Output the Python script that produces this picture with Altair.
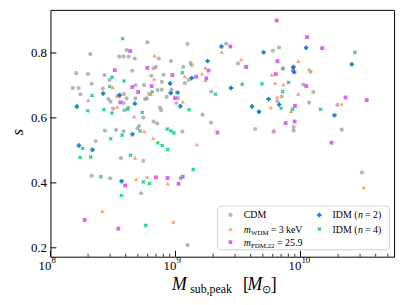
import altair as alt
import pandas as pd
import numpy as np

# ---------------- data (log10 of M_sub,peak in Msun, and s) ----------------
cdm_logM = [8.775, 8.319, 8.609, 8.551, 8.585, 8.625, 8.675, 8.867, 8.825, 8.843,
            8.206, 8.300, 8.654, 8.432, 8.806, 8.904, 8.472, 8.330, 8.749, 8.680,
            8.179, 8.225, 8.419, 8.857, 8.891, 8.240, 8.588, 8.551, 8.464, 8.482,
            8.501, 8.591, 8.622, 8.585, 8.680, 8.757, 8.770, 8.609, 8.743, 8.877,
            8.885, 8.825, 8.854, 8.709, 8.696, 8.435, 8.525, 8.585, 8.361, 8.564,
            8.743, 8.330, 8.477, 8.725, 9.096, 9.096, 9.405, 9.779, 9.829, 8.964,
            9.120, 9.130, 9.500, 9.861, 9.858, 9.062, 9.107, 9.075, 9.286, 8.930,
            9.020, 9.007, 9.217, 9.284, 9.055, 9.850, 9.816, 9.638, 9.784, 9.945,
            9.945, 10.069, 10.081, 10.023, 10.103, 10.296, 10.330, 10.492, 8.968,
            8.891, 8.788]
cdm_s = [0.833, 0.797, 0.809, 0.789, 0.789, 0.789, 0.783, 0.783, 0.753, 0.757,
         0.738, 0.735, 0.745, 0.732, 0.730, 0.733, 0.717, 0.705, 0.701, 0.701,
         0.692, 0.692, 0.690, 0.686, 0.687, 0.673, 0.674, 0.666, 0.658, 0.650,
         0.629, 0.624, 0.632, 0.646, 0.660, 0.658, 0.660, 0.660, 0.601, 0.632,
         0.624, 0.589, 0.583, 0.575, 0.568, 0.561, 0.563, 0.559, 0.529, 0.476,
         0.468, 0.422, 0.414, 0.368, 0.208, 0.828, 0.829, 0.807, 0.817, 0.775,
         0.769, 0.763, 0.768, 0.751, 0.753, 0.757, 0.717, 0.707, 0.681, 0.665,
         0.661, 0.646, 0.610, 0.586, 0.558, 0.666, 0.652, 0.566, 0.557, 0.572,
         0.561, 0.647, 0.742, 0.703, 0.680, 0.640, 0.564, 0.432, 0.687,
         0.711, 0.674]

wdm_logM = [8.833, 8.830, 8.498, 8.804, 8.302, 8.531, 8.533, 8.670, 8.749, 8.822,
            8.677, 8.685, 8.770, 8.414, 8.938, 8.983, 9.172, 9.059, 9.371, 9.526,
            9.239, 9.075, 9.213, 9.240, 9.770, 9.798, 9.862, 9.983, 10.069, 9.983,
            9.813, 9.763, 9.926, 9.790, 10.330, 10.506]
wdm_s = [0.792, 0.720, 0.694, 0.673, 0.655, 0.668, 0.634, 0.605, 0.559, 0.538,
         0.477, 0.411, 0.418, 0.313, 0.398, 0.280, 0.518, 0.650, 0.803, 0.780,
         0.755, 0.728, 0.736, 0.716, 0.733, 0.708, 0.703, 0.775, 0.750, 0.674,
         0.665, 0.632, 0.621, 0.563, 0.643, 0.386]

fdm_logM = [8.638, 8.514, 8.775, 8.809, 8.654, 8.701, 8.559, 8.598, 8.843, 8.937,
            9.025, 9.058, 8.274, 8.543, 8.996, 9.336, 9.810, 9.439, 9.816, 9.565,
            9.265, 8.975, 9.165, 9.247, 9.802, 10.053, 10.174, 9.941, 10.047, 9.956,
            10.361, 10.530, 9.881, 9.954, 10.248]
fdm_s = [0.806, 0.747, 0.754, 0.698, 0.695, 0.680, 0.648, 0.392, 0.417, 0.415,
         0.397, 0.419, 0.286, 0.259, 0.661, 0.555, 0.900, 0.820, 0.775, 0.757,
         0.746, 0.732, 0.727, 0.722, 0.735, 0.849, 0.815, 0.748, 0.698, 0.637,
         0.663, 0.655, 0.584, 0.589, 0.524]

idm2_logM = [8.422, 8.553, 8.211, 8.675, 8.656, 8.227, 8.336, 8.569, 8.962, 9.017,
             9.039, 8.957, 9.130, 9.257, 9.368, 9.705, 9.444, 10.045, 10.411, 9.944,
             9.950, 9.745, 9.830, 9.613, 9.668, 10.272]
idm2_s = [0.675, 0.671, 0.635, 0.644, 0.550, 0.515, 0.502, 0.405, 0.677, 0.678,
          0.636, 0.706, 0.723, 0.775, 0.820, 0.802, 0.692, 0.816, 0.765, 0.757,
          0.741, 0.658, 0.641, 0.635, 0.619, 0.608]

idm4_logM = [8.577, 8.493, 8.588, 8.474, 8.814, 8.332, 8.298, 8.427, 8.492, 8.617,
             8.735, 8.717, 8.573, 8.482, 8.859, 8.893, 8.934, 8.258, 8.322, 8.237,
             8.640, 8.403, 8.567, 8.743, 8.792, 8.762, 8.964, 8.988, 9.108, 8.938,
             9.142, 9.041, 9.320, 9.055, 9.534, 9.692, 9.905, 9.858, 9.845, 9.937,
             10.161, 10.435]
idm4_s = [0.844, 0.725, 0.714, 0.697, 0.680, 0.669, 0.622, 0.625, 0.615, 0.627,
          0.617, 0.560, 0.547, 0.536, 0.523, 0.515, 0.566, 0.506, 0.480, 0.478,
          0.485, 0.419, 0.361, 0.403, 0.398, 0.269, 0.560, 0.554, 0.625, 0.503,
          0.441, 0.414, 0.673, 0.739, 0.704, 0.705, 0.709, 0.681, 0.630, 0.627,
          0.627, 0.802]

y_ticks = [0.2, 0.4, 0.6, 0.8]
x_major = [1e8, 1e9, 1e10]
x_major_exp = ["8", "9", "10"]
x_minor = [2e8, 3e8, 4e8, 5e8, 6e8, 7e8, 8e8, 9e8,
           2e9, 3e9, 4e9, 5e9, 6e9, 7e9, 8e9, 9e9,
           2e10, 3e10, 4e10, 5e10]

# ---------------- style ----------------
FONT = "Liberation Serif"
W, H = 348, 250
C_CDM = "#999999"
C_WDM = "#ff8a4c"
C_FDM = "#d946f5"
C_IDM2 = "#0077c0"
C_IDM4 = "#10c88a"
PLUS = "M-0.45,-1H0.45V-0.45H1V0.45H0.45V1H-0.45V0.45H-1V-0.45H-0.45Z"
XSHAPE = ("M-1,-0.5L-0.5,-1L0,-0.5L0.5,-1L1,-0.5L0.5,0L1,0.5L0.5,1L0,0.5"
          "L-0.5,1L-1,0.5L-0.5,0Z")

xs = alt.Scale(type="log", domain=[1e8, 5.61e10], nice=False)
ys = alt.Scale(domain=[0.1726, 0.9329], nice=False, zero=False)
xax = alt.Axis(labels=False, ticks=False, domain=False, grid=False, title=None)
yax = alt.Axis(values=y_ticks, format=".1f", ticks=False, domain=False, grid=False,
               title=None, labelFont=FONT, labelFontSize=13, labelColor="black",
               labelPadding=4)


def pts(logm, s, shape, color, size, opacity):
    df = pd.DataFrame({"M": np.power(10.0, np.array(logm)), "s": s})
    return alt.Chart(df).mark_point(
        shape=shape, filled=True, color=color, size=size, opacity=opacity,
        strokeWidth=0
    ).encode(
        x=alt.X("M:Q", scale=xs, axis=xax),
        y=alt.Y("s:Q", scale=ys, axis=yax),
    )


one = pd.DataFrame({"a": [0]})


def txt(s, x, y, size, italic=False, align="left", angle=0, baseline="alphabetic"):
    kw = dict(text=s, font=FONT, fontSize=size, align=align, baseline=baseline,
              color="black")
    if italic:
        kw["fontStyle"] = "italic"
    if angle:
        kw["angle"] = angle
    return alt.Chart(one).mark_text(**kw).encode(x=alt.value(x), y=alt.value(y))


def legpt(x, y, shape, color, size, opacity):
    return alt.Chart(one).mark_point(
        shape=shape, filled=True, color=color, size=size, opacity=opacity,
        strokeWidth=0
    ).encode(x=alt.value(x), y=alt.value(y))


layers = [
    pts(cdm_logM, cdm_s, "circle", C_CDM, 18, 0.7),
    pts(wdm_logM, wdm_s, "triangle-up", C_WDM, 18, 0.85),
    pts(fdm_logM, fdm_s, "square", C_FDM, 15, 0.85),
    pts(idm2_logM, idm2_s, PLUS, C_IDM2, 20, 0.9),
    pts(idm4_logM, idm4_s, XSHAPE, C_IDM4, 17, 0.9),
]

# inward ticks
layers.append(alt.Chart(pd.DataFrame({"s": y_ticks})).mark_rule(color="black", strokeWidth=1).encode(
    y=alt.Y("s:Q", scale=ys, axis=yax), x=alt.value(0), x2=alt.value(6)))
layers.append(alt.Chart(pd.DataFrame({"M": x_major})).mark_rule(color="black", strokeWidth=1).encode(
    x=alt.X("M:Q", scale=xs, axis=xax), y=alt.value(H), y2=alt.value(H - 6)))
layers.append(alt.Chart(pd.DataFrame({"M": x_minor})).mark_rule(color="black", strokeWidth=0.8).encode(
    x=alt.X("M:Q", scale=xs, axis=xax), y=alt.value(H), y2=alt.value(H - 3)))

# x tick labels 10^n
xl = pd.DataFrame({"M": x_major, "e": x_major_exp})
layers.append(alt.Chart(xl).mark_text(text="10", font=FONT, fontSize=13, align="right",
                                      baseline="alphabetic", dx=1, color="black").encode(
    x=alt.X("M:Q", scale=xs, axis=xax), y=alt.value(H + 13)))
layers.append(alt.Chart(xl).mark_text(font=FONT, fontSize=9, align="left",
                                      baseline="alphabetic", dx=1, color="black").encode(
    x=alt.X("M:Q", scale=xs, axis=xax), y=alt.value(H + 6), text="e:N"))

# axis titles
layers += [
    txt("s", -33, 124, 17, italic=True, align="center", angle=270, baseline="middle"),
    txt("M", 123, 283.5, 18, italic=True),
    txt("sub,peak", 141.5, 287, 12),
    txt("[", 195, 283.5, 18),
    txt("M", 199.5, 283.5, 18, italic=True),
    txt("\u2299", 214, 287, 11),
    txt("]", 223, 283.5, 18),
]

# legend
layers.append(alt.Chart(one).mark_rect(fill="white", stroke="#cccccc", strokeWidth=1,
                                       cornerRadius=3, opacity=0.9).encode(
    x=alt.value(169.3), x2=alt.value(343.3), y=alt.value(198.7), y2=alt.value(243)))
layers += [
    legpt(182.3, 207.7, "circle", C_CDM, 18, 0.7),
    legpt(182.3, 222, "triangle-up", C_WDM, 18, 0.85),
    legpt(182.3, 235.3, "square", C_FDM, 15, 0.85),
    legpt(272.3, 207.7, PLUS, C_IDM2, 20, 0.9),
    legpt(272.3, 222, XSHAPE, C_IDM4, 17, 0.9),
    txt("CDM", 195.7, 211.2, 10),
    txt("m", 195.7, 225.5, 10, italic=True),
    txt("WDM", 203, 228, 7),
    txt("= 3 keV", 223, 225.5, 10),
    txt("m", 195.7, 238.8, 10, italic=True),
    txt("FDM,22", 203, 241.3, 7),
    txt("= 25.9", 229.5, 238.8, 10),
    txt("IDM (", 285.7, 211.2, 10),
    txt("n", 311.5, 211.2, 10, italic=True),
    txt("= 2)", 318.5, 211.2, 10),
    txt("IDM (", 285.7, 225.5, 10),
    txt("n", 311.5, 225.5, 10, italic=True),
    txt("= 4)", 318.5, 225.5, 10),
]

chart = alt.layer(*layers).properties(
    width=W, height=H,
    autosize=alt.AutoSizeParams(type="none"),
    padding={"left": 43, "top": 0, "right": 5, "bottom": 44},
).configure_view(stroke="black", strokeWidth=1)

chart.save("out.html", embed_options={"renderer": "svg", "actions": False})
